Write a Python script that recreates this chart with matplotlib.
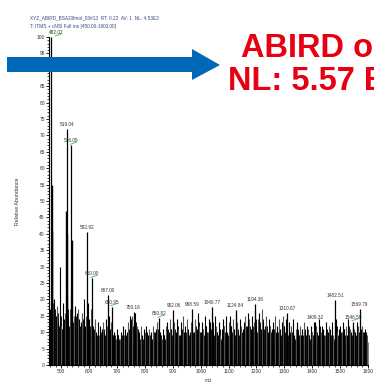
import numpy as np
import matplotlib
matplotlib.use('Agg')
import matplotlib.pyplot as plt
from matplotlib.patches import Polygon

# labelled peaks (label text, drawn position, relative abundance)
peak_labels = ["482.02", "519.04", "536.09", "592.92", "610.00", "667.00", "680.95",
               "759.16", "850.82", "902.06", "968.59", "1040.77", "1124.84", "1194.36",
               "1310.67", "1409.32", "1482.51", "1546.59", "1569.79"]
peak_mz = [464, 519.04, 536.09, 592.92, 610.00, 667.00, 680.95, 759.16, 850.82, 902.06,
           968.59, 1040.77, 1124.84, 1194.36, 1310.67, 1409.32, 1482.51, 1546.59, 1569.79]
peak_int = [100, 72, 67, 40.6, 26.4, 21.3, 17.8, 16.3, 14.3, 16.8, 17, 17.7, 16.8, 18.6,
            16, 13.2, 19.8, 13.2, 17]
green_marks = ["482.02", "536.09", "610.00", "680.95", "850.82", "1546.59"]

# overlapping lines under the big peaks
side_mz = [465, 466, 518, 520, 537]
side_int = [55, 41, 47, 40, 38]

# noise, one value every 5 m/z from 455 to 1600
noise_int = [
    14, 17, 20, 19, 20, 15, 18, 13, 30, 12,
    19, 14, 16, 21, 13, 17, 22, 12, 15, 18,
    16, 17, 14, 13, 16, 20, 12, 15, 19, 14,
    17, 11, 12, 14, 10, 13, 9, 12, 11, 13,
    10, 14, 12, 15, 11, 13, 9, 10, 8, 11,
    9, 8, 10, 12, 9, 11, 10, 13, 15, 14,
    15, 13, 16, 12, 11, 10, 12, 9, 11, 10,
    12, 9, 11, 10, 8, 12, 10, 11, 13, 9,
    10, 8, 11, 9, 12, 13, 10, 14, 11, 12,
    13, 10, 14, 11, 9, 13, 15, 10, 12, 14,
    11, 10, 13, 12, 10, 14, 11, 16, 12, 10,
    13, 11, 15, 12, 10, 14, 13, 16, 11, 15,
    12, 10, 13, 9, 11, 14, 12, 15, 10, 13,
    15, 12, 14, 11, 16, 13, 10, 14, 12, 11,
    13, 15, 12, 16, 14, 11, 15, 13, 17, 12,
    14, 16, 11, 17, 13, 12, 15, 10, 14, 12,
    11, 13, 15, 10, 12, 14, 11, 13, 15, 12,
    14, 11, 13, 10, 12, 14, 9, 11, 13, 10,
    12, 9, 11, 13, 10, 12, 11, 9, 12, 10,
    13, 11, 12, 9, 14, 10, 12, 11, 9, 13,
    10, 12, 11, 13, 9, 12, 14, 10, 11, 12,
    10, 13, 11, 12, 9, 14, 11, 10, 12, 11,
    10, 13, 12, 9, 11, 12, 10, 11, 9, 10,
]
noise_mz = np.arange(455, 1601, 5)

# second noise layer, in between, every 5 m/z from 457.5 to 1597.5
noise2_int = [
    13, 16, 18, 15, 17, 14, 16, 12, 15, 11,
    15, 13, 14, 17, 12, 14, 16, 13, 12, 15,
    14, 13, 12, 11, 14, 15, 11, 13, 14, 12,
    13, 10, 11, 12, 9, 11, 8, 10, 9, 11,
    9, 11, 10, 12, 9, 10, 8, 9, 7, 9,
    8, 7, 9, 10, 8, 9, 8, 11, 12, 11,
    12, 11, 13, 10, 9, 8, 10, 8, 9, 8,
    10, 8, 9, 8, 7, 10, 8, 9, 11, 8,
    9, 7, 9, 8, 10, 11, 9, 11, 9, 10,
    11, 9, 12, 9, 8, 11, 12, 9, 10, 11,
    9, 8, 11, 10, 9, 12, 9, 13, 10, 9,
    11, 9, 12, 10, 9, 12, 11, 13, 9, 12,
    10, 9, 11, 8, 9, 12, 10, 12, 9, 11,
    12, 10, 12, 9, 13, 11, 9, 12, 10, 9,
    11, 12, 10, 13, 12, 9, 12, 11, 14, 10,
    12, 13, 9, 14, 11, 10, 12, 9, 12, 10,
    9, 11, 12, 9, 10, 12, 9, 11, 12, 10,
    12, 9, 11, 8, 10, 12, 8, 9, 11, 9,
    10, 8, 9, 11, 9, 10, 9, 8, 10, 9,
    11, 9, 10, 8, 12, 9, 10, 9, 8, 11,
    9, 10, 9, 11, 8, 10, 12, 9, 9, 10,
    9, 11, 9, 10, 8, 12, 9, 9, 10, 9,
    9, 11, 10, 8, 9, 10, 9, 10, 8,
]
noise2_mz = np.arange(457.5, 1600, 5)

# solid baseline of the noise, every 50 m/z
floor_mz = [455, 505, 555, 605, 655, 705, 755, 805, 855, 905, 955, 1005, 1055, 1105,
            1155, 1205, 1255, 1305, 1355, 1405, 1455, 1505, 1555, 1600]
floor_int = [11, 11, 10, 9, 7, 7, 7, 7, 7, 7, 7, 7, 7, 7, 7, 7, 7, 7, 7, 7, 7, 7, 7, 7]

header1 = "XYZ_ABIRD_BSA20fmol_03#13  RT: 0.22  AV: 1  NL: 4.53E3"
header2 = "T: ITMS + cNSI Full ms [450.00-1600.00]"

plt.rcParams['font.family'] = ['Liberation Sans', 'DejaVu Sans']

fig = plt.figure(figsize=(3.74, 3.83), dpi=100)
ax = fig.add_axes([49 / 374, 18 / 383, 319 / 374, 328 / 383])

ax.fill_between(floor_mz, 0, floor_int, color='black', lw=0)
ax.vlines(noise2_mz, 0, noise2_int, colors='#111111', lw=0.7)
cols = ['black' if i % 3 else '#555555' for i in range(len(noise_mz))]
ax.vlines(noise_mz, 0, noise_int, colors=cols, lw=0.8)
ax.vlines(side_mz, 0, side_int, colors='black', lw=1.0)
ax.vlines(peak_mz, 0, peak_int, colors='black', lw=0.9, clip_on=False)

for lab, h in zip(peak_labels, peak_int):
    x = float(lab)
    ax.text(x, h + 0.6, lab, fontsize=3.4, color='#333333', ha='center', va='bottom')
    if lab in green_marks:
        ax.plot([x - 4, x + 18], [h + 0.3, h + 0.9], color='#33cc33', lw=0.6, clip_on=False)

ax.set_xlim(456, 1600)
ax.set_ylim(0, 100)
ax.set_xticks(np.arange(500, 1601, 100))
ax.set_xticks(np.arange(460, 1601, 20), minor=True)
ax.set_yticks(np.arange(0, 101, 5))
ax.set_yticks(np.arange(0, 101, 1), minor=True)
ax.tick_params(which='major', length=2, width=0.6, labelsize=3.5, pad=1, labelcolor='#333333')
ax.tick_params(which='minor', length=1.3, width=0.5)
for s in ['top', 'right']:
    ax.spines[s].set_visible(False)
for s in ['left', 'bottom']:
    ax.spines[s].set_linewidth(0.8)
ax.set_ylabel("Relative Abundance", fontsize=3.8, color='#333333', labelpad=12)
ax.set_xlabel("m/z", fontsize=3.3, color='#333333', labelpad=3)

fig.text(30 / 374, 1 - 19 / 383, header1, fontsize=3.4, color='#3b4a8a')
fig.text(30 / 374, 1 - 28 / 383, header2, fontsize=3.4, color='#3b4a8a')

# blue arrow
W, H = 374, 383
arrow_px = [(7, 57), (192, 57), (192, 49), (220, 65), (192, 80), (192, 72), (7, 72)]
fig.patches.append(Polygon([(x / W, 1 - y / H) for x, y in arrow_px], closed=True,
                           transform=fig.transFigure, facecolor='#0068b7', edgecolor='none'))

# the reference crops these two lines at the right edge
fig.text(241 / W, 1 - 57 / H, "ABIRD only", fontsize=23.5, fontweight='bold',
         color='#e60012', va='baseline')
fig.text(228 / W, 1 - 90 / H, "NL: 5.57 E3", fontsize=23.5, fontweight='bold',
         color='#e60012', va='baseline')

fig.savefig('out.png', dpi=100)
